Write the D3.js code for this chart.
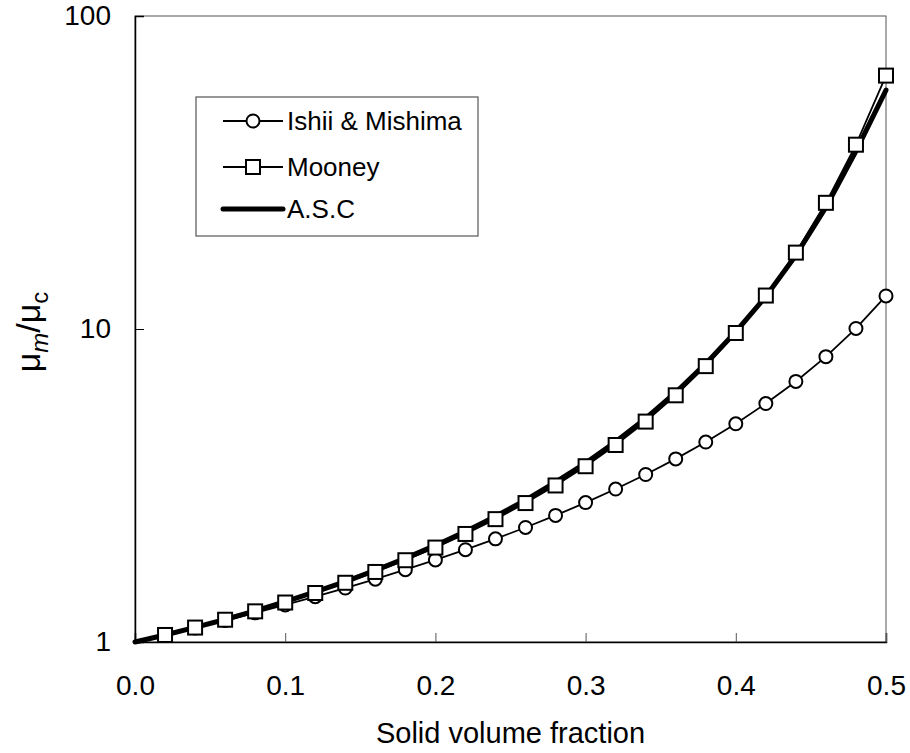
<!DOCTYPE html>
<html>
<head>
<meta charset="utf-8">
<script src="https://d3js.org/d3.v7.min.js"></script>
<style>
  body { margin: 0; background: #fff; }
  text { font-family: "Liberation Sans", Arial, sans-serif; fill: #000; }
</style>
</head>
<body>
<svg id="chart" width="910" height="753"></svg>
<script>
// values
const phi = [0, 0.02, 0.04, 0.06, 0.08, 0.10, 0.12, 0.14, 0.16, 0.18, 0.20, 0.22, 0.24,
             0.26, 0.28, 0.30, 0.32, 0.34, 0.36, 0.38, 0.40, 0.42, 0.44, 0.46, 0.48, 0.50];
const ishii = [1, 1.052, 1.109, 1.171, 1.239, 1.313, 1.396, 1.487, 1.588, 1.702, 1.829, 1.972, 2.136,
               2.322, 2.538, 2.788, 3.081, 3.429, 3.846, 4.354, 4.98, 5.78, 6.80, 8.16, 10.04, 12.75];
const mooney = [1, 1.053, 1.112, 1.178, 1.253, 1.337, 1.434, 1.546, 1.674, 1.825, 2.003, 2.214, 2.469,
                2.779, 3.163, 3.644, 4.26, 5.06, 6.14, 7.61, 9.71, 12.79, 17.54, 25.3, 38.8, 64.5];
const asc = [1, 1.053, 1.113, 1.18, 1.258, 1.345, 1.445, 1.56, 1.695, 1.85, 2.035, 2.255, 2.52,
             2.84, 3.24, 3.73, 4.36, 5.18, 6.27, 7.75, 9.8, 12.7, 17.2, 24.5, 37, 58];
const xTicks = [0, 0.1, 0.2, 0.3, 0.4, 0.5];
const yTicks = [1, 10, 100];
const seriesNames = ["Ishii & Mishima", "Mooney", "A.S.C"];

const svg = d3.select("#chart");
const plot = {left: 135, right: 886, top: 16, bottom: 642};

const x = d3.scaleLinear().domain([0, 0.5]).range([plot.left, plot.right]);
const y = d3.scaleLog().domain([1, 100]).range([plot.bottom, plot.top]);

// frame
svg.append("rect")
   .attr("x", plot.left).attr("y", plot.top)
   .attr("width", plot.right - plot.left).attr("height", plot.bottom - plot.top)
   .attr("fill", "none").attr("stroke", "#555").attr("stroke-width", 1);

// axes with inward ticks
const xAxis = svg.append("g")
   .attr("transform", `translate(0,${plot.bottom})`)
   .call(d3.axisBottom(x).tickValues(xTicks).tickSize(-9).tickPadding(33)
           .tickFormat(d3.format(".1f")));
xAxis.select(".domain").attr("stroke", "#000").attr("stroke-width", 1.5);
xAxis.selectAll(".tick line").attr("stroke", "#555");
xAxis.selectAll(".tick text").attr("font-size", 28).attr("dy", "0.71em");

const yAxis = svg.append("g")
   .attr("transform", `translate(${plot.left},0)`)
   .call(d3.axisLeft(y).tickValues(yTicks).tickSize(-9).tickPadding(24)
           .tickFormat(d3.format("d")));
yAxis.select(".domain").attr("stroke", "#000").attr("stroke-width", 1.5);
yAxis.selectAll(".tick line").attr("stroke", "#000");
yAxis.selectAll(".tick text").attr("font-size", 28);

// axis titles
svg.append("text")
   .attr("x", (plot.left + plot.right) / 2).attr("y", 743)
   .attr("text-anchor", "middle").attr("font-size", 29)
   .text("Solid volume fraction");

const yt = svg.append("text")
   .attr("transform", "translate(40,332) rotate(-90)")
   .attr("text-anchor", "middle").attr("font-size", 34);
yt.append("tspan").text("μ");
yt.append("tspan").attr("font-size", 24).attr("font-style", "italic").attr("dy", 8).text("m");
yt.append("tspan").attr("dy", -8).text("/μ");
yt.append("tspan").attr("font-size", 24).attr("dy", 8).text("c");

// lines
const line = d3.line().x((d, i) => x(phi[i])).y(d => y(d));

svg.append("path").datum(asc)
   .attr("d", line).attr("fill", "none")
   .attr("stroke", "#000").attr("stroke-width", 5).attr("stroke-linecap", "round");

svg.append("path").datum(ishii)
   .attr("d", line).attr("fill", "none")
   .attr("stroke", "#000").attr("stroke-width", 1.8);
svg.append("g").selectAll("circle").data(ishii).join("circle")
   .attr("cx", (d, i) => x(phi[i])).attr("cy", d => y(d)).attr("r", 6.5)
   .attr("fill", "#fff").attr("stroke", "#000").attr("stroke-width", 2)
   .filter((d, i) => i === 0).remove();

svg.append("path").datum(mooney)
   .attr("d", line).attr("fill", "none")
   .attr("stroke", "#000").attr("stroke-width", 1.8);
svg.append("g").selectAll("rect").data(mooney).join("rect")
   .attr("x", (d, i) => x(phi[i]) - 7).attr("y", d => y(d) - 7)
   .attr("width", 14).attr("height", 14)
   .attr("fill", "#fff").attr("stroke", "#000").attr("stroke-width", 2)
   .filter((d, i) => i === 0).remove();

// legend
const legend = svg.append("g");
legend.append("rect")
   .attr("x", 196).attr("y", 97).attr("width", 282).attr("height", 139)
   .attr("fill", "#fff").attr("stroke", "#555").attr("stroke-width", 1.2);

const rowsY = [121, 167, 209];
seriesNames.forEach((name, i) => {
  const ly = rowsY[i];
  legend.append("line")
     .attr("x1", 223).attr("x2", 283).attr("y1", ly).attr("y2", ly)
     .attr("stroke", "#000").attr("stroke-width", i === 2 ? 5 : 1.8)
     .attr("stroke-linecap", i === 2 ? "round" : "butt");
  if (i === 0) {
    legend.append("circle").attr("cx", 253).attr("cy", ly).attr("r", 6.5)
       .attr("fill", "#fff").attr("stroke", "#000").attr("stroke-width", 2);
  } else if (i === 1) {
    legend.append("rect").attr("x", 246).attr("y", ly - 7).attr("width", 14).attr("height", 14)
       .attr("fill", "#fff").attr("stroke", "#000").attr("stroke-width", 2);
  }
  legend.append("text")
     .attr("x", 287).attr("y", ly).attr("dy", "0.36em")
     .attr("font-size", 26).text(name);
});
</script>
</body>
</html>
